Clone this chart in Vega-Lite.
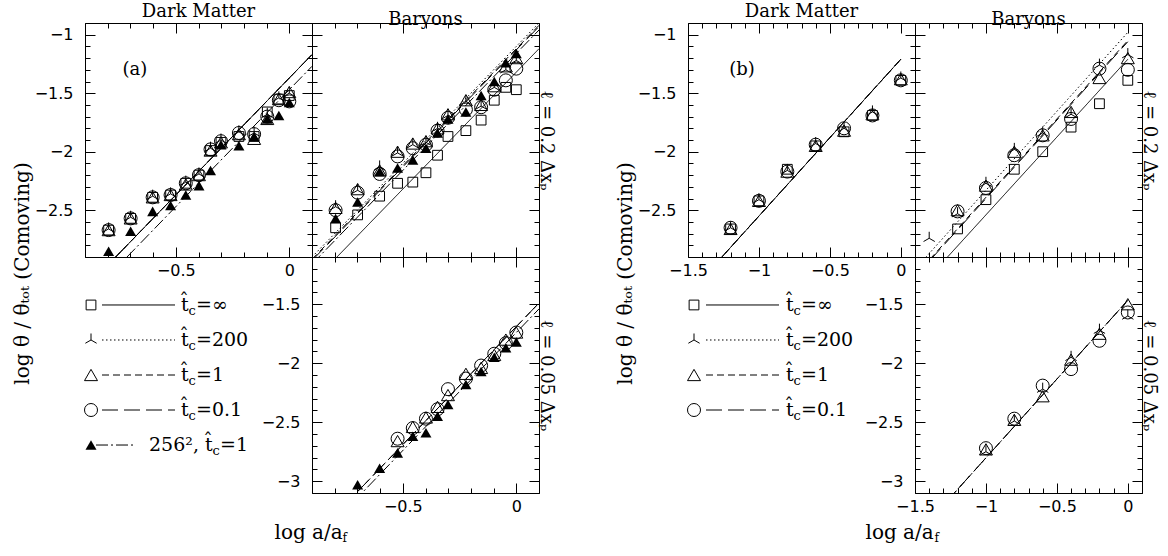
{
"$schema":"https://vega.github.io/schema/vega-lite/v6.json",
"padding":{"left":12,"top":3,"right":5,"bottom":5},
"background":"white",
"config":{
 "view":{"stroke":null},
 "axis":{"domainColor":"black","domainWidth":1,"tickColor":"black","tickWidth":1,"labelColor":"black","labelFont":"DejaVu Sans","labelFontSize":16,"titleColor":"black","titleFont":"DejaVu Serif","titleFontSize":18,"titleFontWeight":"normal","grid":false,"labelFlush":false,"labelOverlap":false,"labelBound":false},
 "title":{"font":"DejaVu Serif","fontSize":18,"fontWeight":"normal","color":"black","anchor":"middle","offset":-6},
 "text":{"font":"DejaVu Serif","color":"black"}
},
"datasets":{
"leg":[{"s":"inf","suf":"=∞"},{"s":"200","suf":"=200"},{"s":"1","suf":"=1"},{"s":"0.1","suf":"=0.1"},{"s":"256","suf":"=1"}],
"lines":[
{"p":"a_dm","s":"inf","x":-0.9,"y":-3.17},{"p":"a_dm","s":"inf","x":0.1,"y":-1.17},
{"p":"a_dm","s":"200","x":-0.9,"y":-3.17},{"p":"a_dm","s":"200","x":0.1,"y":-1.17},
{"p":"a_dm","s":"1","x":-0.9,"y":-3.17},{"p":"a_dm","s":"1","x":0.1,"y":-1.17},
{"p":"a_dm","s":"0.1","x":-0.9,"y":-3.17},{"p":"a_dm","s":"0.1","x":0.1,"y":-1.17},
{"p":"a_dm","s":"256","x":-0.9,"y":-3.27},{"p":"a_dm","s":"256","x":0.1,"y":-1.27},
{"p":"a_bt","s":"inf","x":-0.9,"y":-3.12},{"p":"a_bt","s":"inf","x":0.1,"y":-1.12},
{"p":"a_bt","s":"200","x":-0.9,"y":-2.9},{"p":"a_bt","s":"200","x":0.1,"y":-0.9},
{"p":"a_bt","s":"1","x":-0.9,"y":-2.92},{"p":"a_bt","s":"1","x":0.1,"y":-0.92},
{"p":"a_bt","s":"0.1","x":-0.9,"y":-2.93},{"p":"a_bt","s":"0.1","x":0.1,"y":-0.93},
{"p":"a_bt","s":"256","x":-0.9,"y":-2.96},{"p":"a_bt","s":"256","x":0.1,"y":-0.96},
{"p":"a_bb","s":"1","x":-0.9,"y":-3.49},{"p":"a_bb","s":"1","x":0.1,"y":-1.49},
{"p":"a_bb","s":"0.1","x":-0.9,"y":-3.49},{"p":"a_bb","s":"0.1","x":0.1,"y":-1.49},
{"p":"a_bb","s":"256","x":-0.9,"y":-3.54},{"p":"a_bb","s":"256","x":0.1,"y":-1.54},
{"p":"b_dm","s":"inf","x":-1.5,"y":-3.22},{"p":"b_dm","s":"inf","x":0,"y":-1.21},
{"p":"b_dm","s":"200","x":-1.5,"y":-3.22},{"p":"b_dm","s":"200","x":0,"y":-1.21},
{"p":"b_dm","s":"1","x":-1.5,"y":-3.22},{"p":"b_dm","s":"1","x":0,"y":-1.21},
{"p":"b_dm","s":"0.1","x":-1.5,"y":-3.22},{"p":"b_dm","s":"0.1","x":0,"y":-1.21},
{"p":"b_bt","s":"inf","x":-1.5,"y":-3.205},{"p":"b_bt","s":"inf","x":0,"y":-1.21},
{"p":"b_bt","s":"200","x":-1.5,"y":-3.005},{"p":"b_bt","s":"200","x":0,"y":-0.98},
{"p":"b_bt","s":"1","x":-1.5,"y":-3.06},{"p":"b_bt","s":"1","x":0,"y":-1.05},
{"p":"b_bt","s":"0.1","x":-1.5,"y":-3.07},{"p":"b_bt","s":"0.1","x":0,"y":-1.06},
{"p":"b_bb","s":"200","x":-1.5,"y":-3.47},{"p":"b_bb","s":"200","x":0,"y":-1.467},
{"p":"b_bb","s":"1","x":-1.5,"y":-3.47},{"p":"b_bb","s":"1","x":0,"y":-1.467},
{"p":"b_bb","s":"0.1","x":-1.5,"y":-3.47},{"p":"b_bb","s":"0.1","x":0,"y":-1.467}
],
"pts":[
{"p":"a_dm","s":"inf","x":-0.796,"y":-2.67},{"p":"a_dm","s":"inf","x":-0.699,"y":-2.57},{"p":"a_dm","s":"inf","x":-0.602,"y":-2.39},{"p":"a_dm","s":"inf","x":-0.523,"y":-2.37},{"p":"a_dm","s":"inf","x":-0.456,"y":-2.27},{"p":"a_dm","s":"inf","x":-0.398,"y":-2.2},{"p":"a_dm","s":"inf","x":-0.347,"y":-1.99},{"p":"a_dm","s":"inf","x":-0.301,"y":-1.92},{"p":"a_dm","s":"inf","x":-0.222,"y":-1.87},{"p":"a_dm","s":"inf","x":-0.155,"y":-1.87},{"p":"a_dm","s":"inf","x":-0.097,"y":-1.66},{"p":"a_dm","s":"inf","x":-0.046,"y":-1.55},{"p":"a_dm","s":"inf","x":0,"y":-1.52},
{"p":"a_dm","s":"200","x":-0.796,"y":-2.66},{"p":"a_dm","s":"200","x":-0.699,"y":-2.56},{"p":"a_dm","s":"200","x":-0.602,"y":-2.38},{"p":"a_dm","s":"200","x":-0.523,"y":-2.36},{"p":"a_dm","s":"200","x":-0.456,"y":-2.26},{"p":"a_dm","s":"200","x":-0.398,"y":-2.19},{"p":"a_dm","s":"200","x":-0.347,"y":-1.97},{"p":"a_dm","s":"200","x":-0.301,"y":-1.9},{"p":"a_dm","s":"200","x":-0.222,"y":-1.83},{"p":"a_dm","s":"200","x":-0.155,"y":-1.84},{"p":"a_dm","s":"200","x":-0.097,"y":-1.68},{"p":"a_dm","s":"200","x":-0.046,"y":-1.54},{"p":"a_dm","s":"200","x":0,"y":-1.5},
{"p":"a_dm","s":"1","x":-0.796,"y":-2.67},{"p":"a_dm","s":"1","x":-0.699,"y":-2.57},{"p":"a_dm","s":"1","x":-0.602,"y":-2.39},{"p":"a_dm","s":"1","x":-0.523,"y":-2.37},{"p":"a_dm","s":"1","x":-0.456,"y":-2.28},{"p":"a_dm","s":"1","x":-0.398,"y":-2.2},{"p":"a_dm","s":"1","x":-0.347,"y":-1.99},{"p":"a_dm","s":"1","x":-0.301,"y":-1.92},{"p":"a_dm","s":"1","x":-0.222,"y":-1.85},{"p":"a_dm","s":"1","x":-0.155,"y":-1.89},{"p":"a_dm","s":"1","x":-0.097,"y":-1.72},{"p":"a_dm","s":"1","x":-0.046,"y":-1.55},{"p":"a_dm","s":"1","x":0,"y":-1.49},
{"p":"a_dm","s":"0.1","x":-0.796,"y":-2.67},{"p":"a_dm","s":"0.1","x":-0.699,"y":-2.57},{"p":"a_dm","s":"0.1","x":-0.602,"y":-2.39},{"p":"a_dm","s":"0.1","x":-0.523,"y":-2.37},{"p":"a_dm","s":"0.1","x":-0.456,"y":-2.27},{"p":"a_dm","s":"0.1","x":-0.398,"y":-2.2},{"p":"a_dm","s":"0.1","x":-0.347,"y":-1.98},{"p":"a_dm","s":"0.1","x":-0.301,"y":-1.91},{"p":"a_dm","s":"0.1","x":-0.222,"y":-1.84},{"p":"a_dm","s":"0.1","x":-0.155,"y":-1.85},{"p":"a_dm","s":"0.1","x":-0.097,"y":-1.7},{"p":"a_dm","s":"0.1","x":-0.046,"y":-1.56},{"p":"a_dm","s":"0.1","x":0,"y":-1.57},
{"p":"a_dm","s":"256","x":-0.796,"y":-2.85},{"p":"a_dm","s":"256","x":-0.699,"y":-2.68},{"p":"a_dm","s":"256","x":-0.602,"y":-2.51},{"p":"a_dm","s":"256","x":-0.523,"y":-2.46},{"p":"a_dm","s":"256","x":-0.456,"y":-2.37},{"p":"a_dm","s":"256","x":-0.398,"y":-2.29},{"p":"a_dm","s":"256","x":-0.347,"y":-2.16},{"p":"a_dm","s":"256","x":-0.301,"y":-1.94},{"p":"a_dm","s":"256","x":-0.222,"y":-1.95},{"p":"a_dm","s":"256","x":-0.155,"y":-1.87},{"p":"a_dm","s":"256","x":-0.097,"y":-1.72},{"p":"a_dm","s":"256","x":-0.046,"y":-1.69},{"p":"a_dm","s":"256","x":0,"y":-1.58},
{"p":"a_bt","s":"inf","x":-0.796,"y":-2.65},{"p":"a_bt","s":"inf","x":-0.699,"y":-2.54},{"p":"a_bt","s":"inf","x":-0.602,"y":-2.38},{"p":"a_bt","s":"inf","x":-0.523,"y":-2.27},{"p":"a_bt","s":"inf","x":-0.456,"y":-2.26},{"p":"a_bt","s":"inf","x":-0.398,"y":-2.18},{"p":"a_bt","s":"inf","x":-0.347,"y":-2.03},{"p":"a_bt","s":"inf","x":-0.301,"y":-1.87},{"p":"a_bt","s":"inf","x":-0.222,"y":-1.82},{"p":"a_bt","s":"inf","x":-0.155,"y":-1.73},{"p":"a_bt","s":"inf","x":-0.097,"y":-1.56},{"p":"a_bt","s":"inf","x":-0.046,"y":-1.45},{"p":"a_bt","s":"inf","x":0,"y":-1.47},
{"p":"a_bt","s":"200","x":-0.796,"y":-2.47},{"p":"a_bt","s":"200","x":-0.699,"y":-2.33},{"p":"a_bt","s":"200","x":-0.602,"y":-2.13},{"p":"a_bt","s":"200","x":-0.523,"y":-2.01},{"p":"a_bt","s":"200","x":-0.456,"y":-1.94},{"p":"a_bt","s":"200","x":-0.398,"y":-1.92},{"p":"a_bt","s":"200","x":-0.347,"y":-1.8},{"p":"a_bt","s":"200","x":-0.301,"y":-1.69},{"p":"a_bt","s":"200","x":-0.222,"y":-1.57},{"p":"a_bt","s":"200","x":-0.155,"y":-1.61},{"p":"a_bt","s":"200","x":-0.097,"y":-1.45},{"p":"a_bt","s":"200","x":-0.046,"y":-1.3},{"p":"a_bt","s":"200","x":0,"y":-1.22},
{"p":"a_bt","s":"1","x":-0.796,"y":-2.48},{"p":"a_bt","s":"1","x":-0.699,"y":-2.32},{"p":"a_bt","s":"1","x":-0.602,"y":-2.16},{"p":"a_bt","s":"1","x":-0.523,"y":-2.0},{"p":"a_bt","s":"1","x":-0.456,"y":-1.93},{"p":"a_bt","s":"1","x":-0.398,"y":-1.91},{"p":"a_bt","s":"1","x":-0.347,"y":-1.8},{"p":"a_bt","s":"1","x":-0.301,"y":-1.68},{"p":"a_bt","s":"1","x":-0.222,"y":-1.56},{"p":"a_bt","s":"1","x":-0.155,"y":-1.6},{"p":"a_bt","s":"1","x":-0.097,"y":-1.44},{"p":"a_bt","s":"1","x":-0.046,"y":-1.27},{"p":"a_bt","s":"1","x":0,"y":-1.2},
{"p":"a_bt","s":"0.1","x":-0.796,"y":-2.5},{"p":"a_bt","s":"0.1","x":-0.699,"y":-2.35},{"p":"a_bt","s":"0.1","x":-0.602,"y":-2.19},{"p":"a_bt","s":"0.1","x":-0.523,"y":-2.04},{"p":"a_bt","s":"0.1","x":-0.456,"y":-1.97},{"p":"a_bt","s":"0.1","x":-0.398,"y":-1.94},{"p":"a_bt","s":"0.1","x":-0.347,"y":-1.82},{"p":"a_bt","s":"0.1","x":-0.301,"y":-1.71},{"p":"a_bt","s":"0.1","x":-0.222,"y":-1.64},{"p":"a_bt","s":"0.1","x":-0.155,"y":-1.62},{"p":"a_bt","s":"0.1","x":-0.097,"y":-1.47},{"p":"a_bt","s":"0.1","x":-0.046,"y":-1.39},{"p":"a_bt","s":"0.1","x":0,"y":-1.29},
{"p":"a_bt","s":"256","x":-0.796,"y":-2.57},{"p":"a_bt","s":"256","x":-0.699,"y":-2.43},{"p":"a_bt","s":"256","x":-0.602,"y":-2.17},{"p":"a_bt","s":"256","x":-0.523,"y":-2.14},{"p":"a_bt","s":"256","x":-0.456,"y":-2.07},{"p":"a_bt","s":"256","x":-0.398,"y":-1.97},{"p":"a_bt","s":"256","x":-0.347,"y":-1.84},{"p":"a_bt","s":"256","x":-0.301,"y":-1.72},{"p":"a_bt","s":"256","x":-0.222,"y":-1.66},{"p":"a_bt","s":"256","x":-0.155,"y":-1.52},{"p":"a_bt","s":"256","x":-0.097,"y":-1.4},{"p":"a_bt","s":"256","x":-0.046,"y":-1.24},{"p":"a_bt","s":"256","x":0,"y":-1.16},
{"p":"a_bb","s":"0.1","x":-0.523,"y":-2.64},{"p":"a_bb","s":"0.1","x":-0.456,"y":-2.55},{"p":"a_bb","s":"0.1","x":-0.398,"y":-2.47},{"p":"a_bb","s":"0.1","x":-0.347,"y":-2.39},{"p":"a_bb","s":"0.1","x":-0.301,"y":-2.22},{"p":"a_bb","s":"0.1","x":-0.222,"y":-2.13},{"p":"a_bb","s":"0.1","x":-0.155,"y":-2.02},{"p":"a_bb","s":"0.1","x":-0.097,"y":-1.92},{"p":"a_bb","s":"0.1","x":-0.046,"y":-1.83},{"p":"a_bb","s":"0.1","x":0,"y":-1.74},
{"p":"a_bb","s":"1","x":-0.523,"y":-2.66},{"p":"a_bb","s":"1","x":-0.456,"y":-2.54},{"p":"a_bb","s":"1","x":-0.398,"y":-2.46},{"p":"a_bb","s":"1","x":-0.347,"y":-2.37},{"p":"a_bb","s":"1","x":-0.301,"y":-2.27},{"p":"a_bb","s":"1","x":-0.222,"y":-2.09},{"p":"a_bb","s":"1","x":-0.155,"y":-2.04},{"p":"a_bb","s":"1","x":-0.097,"y":-1.93},{"p":"a_bb","s":"1","x":-0.046,"y":-1.8},{"p":"a_bb","s":"1","x":0,"y":-1.74},
{"p":"a_bb","s":"256","x":-0.699,"y":-3.03},{"p":"a_bb","s":"256","x":-0.602,"y":-2.89},{"p":"a_bb","s":"256","x":-0.523,"y":-2.76},{"p":"a_bb","s":"256","x":-0.456,"y":-2.62},{"p":"a_bb","s":"256","x":-0.398,"y":-2.59},{"p":"a_bb","s":"256","x":-0.347,"y":-2.45},{"p":"a_bb","s":"256","x":-0.301,"y":-2.35},{"p":"a_bb","s":"256","x":-0.222,"y":-2.18},{"p":"a_bb","s":"256","x":-0.155,"y":-2.07},{"p":"a_bb","s":"256","x":-0.097,"y":-1.95},{"p":"a_bb","s":"256","x":-0.046,"y":-1.87},{"p":"a_bb","s":"256","x":0,"y":-1.82},
{"p":"b_dm","s":"inf","x":-1.2,"y":-2.66},{"p":"b_dm","s":"inf","x":-1.0,"y":-2.42},{"p":"b_dm","s":"inf","x":-0.8,"y":-2.15},{"p":"b_dm","s":"inf","x":-0.6,"y":-1.95},{"p":"b_dm","s":"inf","x":-0.4,"y":-1.83},{"p":"b_dm","s":"inf","x":-0.2,"y":-1.69},{"p":"b_dm","s":"inf","x":0,"y":-1.39},
{"p":"b_dm","s":"200","x":-1.2,"y":-2.65},{"p":"b_dm","s":"200","x":-1.0,"y":-2.41},{"p":"b_dm","s":"200","x":-0.8,"y":-2.16},{"p":"b_dm","s":"200","x":-0.6,"y":-1.93},{"p":"b_dm","s":"200","x":-0.4,"y":-1.8},{"p":"b_dm","s":"200","x":-0.2,"y":-1.66},{"p":"b_dm","s":"200","x":0,"y":-1.37},
{"p":"b_dm","s":"1","x":-1.2,"y":-2.66},{"p":"b_dm","s":"1","x":-1.0,"y":-2.42},{"p":"b_dm","s":"1","x":-0.8,"y":-2.17},{"p":"b_dm","s":"1","x":-0.6,"y":-1.95},{"p":"b_dm","s":"1","x":-0.4,"y":-1.82},{"p":"b_dm","s":"1","x":-0.2,"y":-1.68},{"p":"b_dm","s":"1","x":0,"y":-1.38},
{"p":"b_dm","s":"0.1","x":-1.2,"y":-2.65},{"p":"b_dm","s":"0.1","x":-1.0,"y":-2.42},{"p":"b_dm","s":"0.1","x":-0.8,"y":-2.17},{"p":"b_dm","s":"0.1","x":-0.6,"y":-1.94},{"p":"b_dm","s":"0.1","x":-0.4,"y":-1.8},{"p":"b_dm","s":"0.1","x":-0.2,"y":-1.69},{"p":"b_dm","s":"0.1","x":0,"y":-1.39},
{"p":"b_bt","s":"inf","x":-1.2,"y":-2.66},{"p":"b_bt","s":"inf","x":-1.0,"y":-2.41},{"p":"b_bt","s":"inf","x":-0.8,"y":-2.15},{"p":"b_bt","s":"inf","x":-0.6,"y":-2.0},{"p":"b_bt","s":"inf","x":-0.4,"y":-1.79},{"p":"b_bt","s":"inf","x":-0.2,"y":-1.59},{"p":"b_bt","s":"inf","x":0,"y":-1.39},
{"p":"b_bt","s":"200","x":-1.4,"y":-2.74},{"p":"b_bt","s":"200","x":-1.2,"y":-2.53},{"p":"b_bt","s":"200","x":-1.0,"y":-2.27},{"p":"b_bt","s":"200","x":-0.8,"y":-1.98},{"p":"b_bt","s":"200","x":-0.6,"y":-1.84},{"p":"b_bt","s":"200","x":-0.4,"y":-1.68},{"p":"b_bt","s":"200","x":-0.2,"y":-1.26},{"p":"b_bt","s":"200","x":0,"y":-1.17},
{"p":"b_bt","s":"1","x":-1.2,"y":-2.5},{"p":"b_bt","s":"1","x":-1.0,"y":-2.29},{"p":"b_bt","s":"1","x":-0.8,"y":-2.0},{"p":"b_bt","s":"1","x":-0.6,"y":-1.86},{"p":"b_bt","s":"1","x":-0.4,"y":-1.66},{"p":"b_bt","s":"1","x":-0.2,"y":-1.37},{"p":"b_bt","s":"1","x":0,"y":-1.2},
{"p":"b_bt","s":"0.1","x":-1.2,"y":-2.51},{"p":"b_bt","s":"0.1","x":-1.0,"y":-2.31},{"p":"b_bt","s":"0.1","x":-0.8,"y":-2.03},{"p":"b_bt","s":"0.1","x":-0.6,"y":-1.86},{"p":"b_bt","s":"0.1","x":-0.4,"y":-1.72},{"p":"b_bt","s":"0.1","x":-0.2,"y":-1.29},{"p":"b_bt","s":"0.1","x":0,"y":-1.3},
{"p":"b_bb","s":"0.1","x":-1.0,"y":-2.72},{"p":"b_bb","s":"0.1","x":-0.8,"y":-2.47},{"p":"b_bb","s":"0.1","x":-0.6,"y":-2.19},{"p":"b_bb","s":"0.1","x":-0.4,"y":-2.05},{"p":"b_bb","s":"0.1","x":-0.2,"y":-1.81},{"p":"b_bb","s":"0.1","x":0,"y":-1.57},
{"p":"b_bb","s":"1","x":-1.0,"y":-2.73},{"p":"b_bb","s":"1","x":-0.8,"y":-2.48},{"p":"b_bb","s":"1","x":-0.6,"y":-2.28},{"p":"b_bb","s":"1","x":-0.4,"y":-1.97},{"p":"b_bb","s":"1","x":-0.2,"y":-1.75},{"p":"b_bb","s":"1","x":0,"y":-1.5},
{"p":"b_bb","s":"200","x":-1.0,"y":-2.75},{"p":"b_bb","s":"200","x":-0.8,"y":-2.49},{"p":"b_bb","s":"200","x":-0.6,"y":-2.22},{"p":"b_bb","s":"200","x":-0.4,"y":-1.95},{"p":"b_bb","s":"200","x":-0.2,"y":-1.72},{"p":"b_bb","s":"200","x":0,"y":-1.6}
]
},
"columns":5,
"spacing":0,
"bounds":"flush",
"align":"each",
"concat":[
{
 "width":227,"height":234,
 "title":{"text":"Dark Matter"},
 "layer":[
  {"data":{"name":"lines"},"transform":[{"filter":"datum.p=='a_dm'"}],
   "mark":{"type":"line","clip":true,"color":"black","strokeWidth":1},
   "encoding":{
    "x":{"field":"x","type":"quantitative","scale":{"domain":[-0.9,0.1],"nice":false,"zero":false},"axis":{"orient":"bottom","values":[-0.9,-0.8,-0.7,-0.6,-0.5,-0.4,-0.3,-0.2,-0.1,0,0.1],"tickSize":{"condition":{"test":"abs(datum.value*2-round(datum.value*2))<0.01","value":-10},"value":-5},"labelExpr":"abs(datum.value*2-round(datum.value*2))<0.01 ? format(datum.value,'.1~f') : ''","labelPadding":15,"title":null}},
    "y":{"field":"y","type":"quantitative","scale":{"domain":[-2.9,-0.9],"nice":false,"zero":false},"axis":{"orient":"left","values":[-2.9,-2.8,-2.7,-2.6,-2.5,-2.4,-2.3,-2.2,-2.1,-2,-1.9,-1.8,-1.7,-1.6,-1.5,-1.4,-1.3,-1.2,-1.1,-1,-0.9],"tickSize":{"condition":{"test":"abs(datum.value*2-round(datum.value*2))<0.01","value":-10},"value":-5},"labelExpr":"abs(datum.value*2-round(datum.value*2))<0.01 ? format(datum.value,'.1~f') : ''","labelPadding":22,"title":"log  θ / θₜₒₜ   (Comoving)","titleX":-57,"titleY":250,"titleAngle":-90,"titleAlign":"center","titleBaseline":"alphabetic","titleFontSize":20}},
    "strokeDash":{"field":"s","type":"nominal","scale":{"domain":["inf","200","1","0.1","256"],"range":[[1,0],[1.5,2.5],[7,4],[16,6],[12,3,2,3]]},"legend":null}
   }},
  {"data":{"name":"pts"},"transform":[{"filter":"datum.p=='a_dm' && datum.s!='256'"}],
   "mark":{"type":"point","filled":false,"color":"black","strokeWidth":1,"opacity":1,"size":169},
   "encoding":{
    "x":{"field":"x","type":"quantitative","scale":{"domain":[-0.9,0.1],"nice":false,"zero":false},"axis":{"orient":"top","values":[-0.9,-0.8,-0.7,-0.6,-0.5,-0.4,-0.3,-0.2,-0.1,0,0.1],"tickSize":{"condition":{"test":"abs(datum.value*2-round(datum.value*2))<0.01","value":-10},"value":-5},"labels":false,"title":null}},
    "y":{"field":"y","type":"quantitative","scale":{"domain":[-2.9,-0.9],"nice":false,"zero":false},"axis":{"orient":"right","values":[-2.9,-2.8,-2.7,-2.6,-2.5,-2.4,-2.3,-2.2,-2.1,-2,-1.9,-1.8,-1.7,-1.6,-1.5,-1.4,-1.3,-1.2,-1.1,-1,-0.9],"tickSize":{"condition":{"test":"abs(datum.value*2-round(datum.value*2))<0.01","value":-10},"value":-5},"labels":false,"title":null}},
    "shape":{"field":"s","type":"nominal","scale":{"domain":["inf","200","1","0.1","256"],"range":["M-0.75,-0.75H0.75V0.75H-0.75Z","M0,0V-1M0,0L-0.866,0.5M0,0L0.866,0.5","triangle-up","circle","triangle-up"]},"legend":null}
   }},
  {"data":{"name":"pts"},"transform":[{"filter":"datum.p=='a_dm' && datum.s=='256'"}],
   "mark":{"type":"point","shape":"triangle-up","filled":true,"color":"black","opacity":1,"size":121},
   "encoding":{"x":{"field":"x","type":"quantitative","scale":{"domain":[-0.9,0.1],"nice":false,"zero":false},"axis":null},"y":{"field":"y","type":"quantitative","scale":{"domain":[-2.9,-0.9],"nice":false,"zero":false},"axis":null}}},
  {"data":{"values":[{}]},
   "mark":{"type":"text","font":"DejaVu Serif","fontSize":18,"color":"black"},
   "encoding":{"x":{"datum":-0.68,"type":"quantitative","scale":{"domain":[-0.9,0.1],"nice":false,"zero":false},"axis":null},"y":{"datum":-1.3,"type":"quantitative","scale":{"domain":[-2.9,-0.9],"nice":false,"zero":false},"axis":null},"text":{"value":"(a)"}}}
 ],
 "resolve":{"axis":{"x":"independent","y":"independent"}}
},
{
 "width":227,"height":234,
 "title":{"text":"Baryons"},
 "layer":[
  {"data":{"name":"lines"},"transform":[{"filter":"datum.p=='a_bt'"}],
   "mark":{"type":"line","clip":true,"color":"black","strokeWidth":1},
   "encoding":{
    "x":{"field":"x","type":"quantitative","scale":{"domain":[-0.9,0.1],"nice":false,"zero":false},"axis":{"orient":"bottom","values":[-0.9,-0.8,-0.7,-0.6,-0.5,-0.4,-0.3,-0.2,-0.1,0,0.1],"tickSize":{"condition":{"test":"abs(datum.value*2-round(datum.value*2))<0.01","value":-10},"value":-5},"labels":false,"title":null}},
    "y":{"field":"y","type":"quantitative","scale":{"domain":[-2.9,-0.9],"nice":false,"zero":false},"axis":{"orient":"left","values":[-2.9,-2.8,-2.7,-2.6,-2.5,-2.4,-2.3,-2.2,-2.1,-2,-1.9,-1.8,-1.7,-1.6,-1.5,-1.4,-1.3,-1.2,-1.1,-1,-0.9],"tickSize":{"condition":{"test":"abs(datum.value*2-round(datum.value*2))<0.01","value":-10},"value":-5},"labels":false,"title":null}},
    "strokeDash":{"field":"s","type":"nominal","scale":{"domain":["inf","200","1","0.1","256"],"range":[[1,0],[1.5,2.5],[7,4],[16,6],[12,3,2,3]]},"legend":null}
   }},
  {"data":{"name":"pts"},"transform":[{"filter":"datum.p=='a_bt' && datum.s!='256'"}],
   "mark":{"type":"point","filled":false,"color":"black","strokeWidth":1,"opacity":1,"size":169},
   "encoding":{
    "x":{"field":"x","type":"quantitative","scale":{"domain":[-0.9,0.1],"nice":false,"zero":false},"axis":{"orient":"top","values":[-0.9,-0.8,-0.7,-0.6,-0.5,-0.4,-0.3,-0.2,-0.1,0,0.1],"tickSize":{"condition":{"test":"abs(datum.value*2-round(datum.value*2))<0.01","value":-10},"value":-5},"labels":false,"title":null}},
    "y":{"field":"y","type":"quantitative","scale":{"domain":[-2.9,-0.9],"nice":false,"zero":false},"axis":{"orient":"right","values":[-2.9,-2.8,-2.7,-2.6,-2.5,-2.4,-2.3,-2.2,-2.1,-2,-1.9,-1.8,-1.7,-1.6,-1.5,-1.4,-1.3,-1.2,-1.1,-1,-0.9],"tickSize":{"condition":{"test":"abs(datum.value*2-round(datum.value*2))<0.01","value":-10},"value":-5},"labels":false,"title":"ℓ = 0.2 Δxₚ","titleAngle":90,"titlePadding":-3}},
    "shape":{"field":"s","type":"nominal","scale":{"domain":["inf","200","1","0.1","256"],"range":["M-0.75,-0.75H0.75V0.75H-0.75Z","M0,0V-1M0,0L-0.866,0.5M0,0L0.866,0.5","triangle-up","circle","triangle-up"]},"legend":null}
   }},
  {"data":{"name":"pts"},"transform":[{"filter":"datum.p=='a_bt' && datum.s=='256'"}],
   "mark":{"type":"point","shape":"triangle-up","filled":true,"color":"black","opacity":1,"size":121},
   "encoding":{"x":{"field":"x","type":"quantitative","scale":{"domain":[-0.9,0.1],"nice":false,"zero":false},"axis":null},"y":{"field":"y","type":"quantitative","scale":{"domain":[-2.9,-0.9],"nice":false,"zero":false},"axis":null}}}
 ],
 "resolve":{"axis":{"x":"independent","y":"independent"}}
},
{"width":149,"height":234,"data":{"values":[{}]},"mark":{"type":"point","opacity":0},"encoding":{}},
{
 "width":227,"height":234,
 "title":{"text":"Dark Matter"},
 "layer":[
  {"data":{"name":"lines"},"transform":[{"filter":"datum.p=='b_dm'"}],
   "mark":{"type":"line","clip":true,"color":"black","strokeWidth":1},
   "encoding":{
    "x":{"field":"x","type":"quantitative","scale":{"domain":[-1.5,0.1],"nice":false,"zero":false},"axis":{"orient":"bottom","values":[-1.5,-1.4,-1.3,-1.2,-1.1,-1,-0.9,-0.8,-0.7,-0.6,-0.5,-0.4,-0.3,-0.2,-0.1,0,0.1],"tickSize":{"condition":{"test":"abs(datum.value*2-round(datum.value*2))<0.01","value":-10},"value":-5},"labelExpr":"abs(datum.value*2-round(datum.value*2))<0.01 ? format(datum.value,'.1~f') : ''","labelPadding":15,"title":null}},
    "y":{"field":"y","type":"quantitative","scale":{"domain":[-2.9,-0.9],"nice":false,"zero":false},"axis":{"orient":"left","values":[-2.9,-2.8,-2.7,-2.6,-2.5,-2.4,-2.3,-2.2,-2.1,-2,-1.9,-1.8,-1.7,-1.6,-1.5,-1.4,-1.3,-1.2,-1.1,-1,-0.9],"tickSize":{"condition":{"test":"abs(datum.value*2-round(datum.value*2))<0.01","value":-10},"value":-5},"labelExpr":"abs(datum.value*2-round(datum.value*2))<0.01 ? format(datum.value,'.1~f') : ''","labelPadding":22,"title":"log  θ / θₜₒₜ   (Comoving)","titleX":-57,"titleY":250,"titleAngle":-90,"titleAlign":"center","titleBaseline":"alphabetic","titleFontSize":20}},
    "strokeDash":{"field":"s","type":"nominal","scale":{"domain":["inf","200","1","0.1","256"],"range":[[1,0],[1.5,2.5],[7,4],[16,6],[12,3,2,3]]},"legend":null}
   }},
  {"data":{"name":"pts"},"transform":[{"filter":"datum.p=='b_dm'"}],
   "mark":{"type":"point","filled":false,"color":"black","strokeWidth":1,"opacity":1,"size":169},
   "encoding":{
    "x":{"field":"x","type":"quantitative","scale":{"domain":[-1.5,0.1],"nice":false,"zero":false},"axis":{"orient":"top","values":[-1.5,-1.4,-1.3,-1.2,-1.1,-1,-0.9,-0.8,-0.7,-0.6,-0.5,-0.4,-0.3,-0.2,-0.1,0,0.1],"tickSize":{"condition":{"test":"abs(datum.value*2-round(datum.value*2))<0.01","value":-10},"value":-5},"labels":false,"title":null}},
    "y":{"field":"y","type":"quantitative","scale":{"domain":[-2.9,-0.9],"nice":false,"zero":false},"axis":{"orient":"right","values":[-2.9,-2.8,-2.7,-2.6,-2.5,-2.4,-2.3,-2.2,-2.1,-2,-1.9,-1.8,-1.7,-1.6,-1.5,-1.4,-1.3,-1.2,-1.1,-1,-0.9],"tickSize":{"condition":{"test":"abs(datum.value*2-round(datum.value*2))<0.01","value":-10},"value":-5},"labels":false,"title":null}},
    "shape":{"field":"s","type":"nominal","scale":{"domain":["inf","200","1","0.1","256"],"range":["M-0.75,-0.75H0.75V0.75H-0.75Z","M0,0V-1M0,0L-0.866,0.5M0,0L0.866,0.5","triangle-up","circle","triangle-up"]},"legend":null}
   }},
  {"data":{"values":[{}]},
   "mark":{"type":"text","font":"DejaVu Serif","fontSize":18,"color":"black"},
   "encoding":{"x":{"datum":-1.12,"type":"quantitative","scale":{"domain":[-1.5,0.1],"nice":false,"zero":false},"axis":null},"y":{"datum":-1.3,"type":"quantitative","scale":{"domain":[-2.9,-0.9],"nice":false,"zero":false},"axis":null},"text":{"value":"(b)"}}}
 ],
 "resolve":{"axis":{"x":"independent","y":"independent"}}
},
{
 "width":227,"height":234,
 "title":{"text":"Baryons"},
 "layer":[
  {"data":{"name":"lines"},"transform":[{"filter":"datum.p=='b_bt'"}],
   "mark":{"type":"line","clip":true,"color":"black","strokeWidth":1},
   "encoding":{
    "x":{"field":"x","type":"quantitative","scale":{"domain":[-1.5,0.1],"nice":false,"zero":false},"axis":{"orient":"bottom","values":[-1.5,-1.4,-1.3,-1.2,-1.1,-1,-0.9,-0.8,-0.7,-0.6,-0.5,-0.4,-0.3,-0.2,-0.1,0,0.1],"tickSize":{"condition":{"test":"abs(datum.value*2-round(datum.value*2))<0.01","value":-10},"value":-5},"labels":false,"title":null}},
    "y":{"field":"y","type":"quantitative","scale":{"domain":[-2.9,-0.9],"nice":false,"zero":false},"axis":{"orient":"left","values":[-2.9,-2.8,-2.7,-2.6,-2.5,-2.4,-2.3,-2.2,-2.1,-2,-1.9,-1.8,-1.7,-1.6,-1.5,-1.4,-1.3,-1.2,-1.1,-1,-0.9],"tickSize":{"condition":{"test":"abs(datum.value*2-round(datum.value*2))<0.01","value":-10},"value":-5},"labels":false,"title":null}},
    "strokeDash":{"field":"s","type":"nominal","scale":{"domain":["inf","200","1","0.1","256"],"range":[[1,0],[1.5,2.5],[7,4],[16,6],[12,3,2,3]]},"legend":null}
   }},
  {"data":{"name":"pts"},"transform":[{"filter":"datum.p=='b_bt'"}],
   "mark":{"type":"point","filled":false,"color":"black","strokeWidth":1,"opacity":1,"size":169},
   "encoding":{
    "x":{"field":"x","type":"quantitative","scale":{"domain":[-1.5,0.1],"nice":false,"zero":false},"axis":{"orient":"top","values":[-1.5,-1.4,-1.3,-1.2,-1.1,-1,-0.9,-0.8,-0.7,-0.6,-0.5,-0.4,-0.3,-0.2,-0.1,0,0.1],"tickSize":{"condition":{"test":"abs(datum.value*2-round(datum.value*2))<0.01","value":-10},"value":-5},"labels":false,"title":null}},
    "y":{"field":"y","type":"quantitative","scale":{"domain":[-2.9,-0.9],"nice":false,"zero":false},"axis":{"orient":"right","values":[-2.9,-2.8,-2.7,-2.6,-2.5,-2.4,-2.3,-2.2,-2.1,-2,-1.9,-1.8,-1.7,-1.6,-1.5,-1.4,-1.3,-1.2,-1.1,-1,-0.9],"tickSize":{"condition":{"test":"abs(datum.value*2-round(datum.value*2))<0.01","value":-10},"value":-5},"labels":false,"title":"ℓ = 0.2 Δxₚ","titleAngle":90,"titlePadding":-3}},
    "shape":{"field":"s","type":"nominal","scale":{"domain":["inf","200","1","0.1","256"],"range":["M-0.75,-0.75H0.75V0.75H-0.75Z","M0,0V-1M0,0L-0.866,0.5M0,0L0.866,0.5","triangle-up","circle","triangle-up"]},"legend":null}
   }}
 ],
 "resolve":{"axis":{"x":"independent","y":"independent"}}
},
{
 "width":227,"height":236,
 "data":{"name":"leg"},
 "layer":[
  {"transform":[{"filter":"datum.s!='256'"}],
   "mark":{"type":"point","filled":false,"color":"black","strokeWidth":1,"opacity":1,"size":169},
   "encoding":{
    "x":{"datum":6,"type":"quantitative","scale":{"domain":[0,227],"nice":false,"zero":false},"axis":{"orient":"bottom","domain":false,"ticks":false,"labels":false,"title":"log  a/a","titleX":189,"titleY":45,"titleAlign":"left","titleBaseline":"alphabetic","titleFontSize":20}},
    "y":{"field":"s","type":"nominal","scale":{"type":"point","domain":["_a","inf","200","1","0.1","256","_b"],"padding":0.37},"axis":null},
    "shape":{"field":"s","type":"nominal","scale":{"domain":["inf","200","1","0.1","256"],"range":["M-0.75,-0.75H0.75V0.75H-0.75Z","M0,0V-1M0,0L-0.866,0.5M0,0L0.866,0.5","triangle-up","circle","triangle-up"]},"legend":null}
   }},
  {"transform":[{"filter":"datum.s=='256'"}],
   "mark":{"type":"point","shape":"triangle-up","filled":true,"color":"black","opacity":1,"size":121},
   "encoding":{"x":{"datum":6,"type":"quantitative","scale":{"domain":[0,227],"nice":false,"zero":false},"axis":null},"y":{"field":"s","type":"nominal","scale":{"type":"point","domain":["_a","inf","200","1","0.1","256","_b"],"padding":0.37},"axis":null}}},
  {"transform":[{"filter":"datum.s!='256'"}],
   "mark":{"type":"rule","color":"black","strokeWidth":1},
   "encoding":{"x":{"datum":17,"type":"quantitative","scale":{"domain":[0,227],"nice":false,"zero":false},"axis":null},"x2":{"datum":90},"y":{"field":"s","type":"nominal","scale":{"type":"point","domain":["_a","inf","200","1","0.1","256","_b"],"padding":0.37},"axis":null},
    "strokeDash":{"field":"s","type":"nominal","scale":{"domain":["inf","200","1","0.1","256"],"range":[[1,0],[1.5,2.5],[7,4],[16,6],[12,3,2,3]]},"legend":null}}},
  {"transform":[{"filter":"datum.s=='256'"}],
   "mark":{"type":"rule","color":"black","strokeWidth":1},
   "encoding":{"x":{"datum":11,"type":"quantitative","scale":{"domain":[0,227],"nice":false,"zero":false},"axis":null},"x2":{"datum":50},"y":{"field":"s","type":"nominal","scale":{"type":"point","domain":["_a","inf","200","1","0.1","256","_b"],"padding":0.37},"axis":null},
    "strokeDash":{"field":"s","type":"nominal","scale":{"domain":["inf","200","1","0.1","256"],"range":[[1,0],[1.5,2.5],[7,4],[16,6],[12,3,2,3]]},"legend":null}}},
  {"transform":[{"filter":"datum.s!='256'"}],
   "mark":{"type":"text","align":"left","baseline":"middle","font":"DejaVu Serif","fontSize":19,"color":"black"},
   "encoding":{"x":{"datum":96,"type":"quantitative","scale":{"domain":[0,227],"nice":false,"zero":false},"axis":null},"y":{"field":"s","type":"nominal","scale":{"type":"point","domain":["_a","inf","200","1","0.1","256","_b"],"padding":0.37},"axis":null},"text":{"value":"t̂"}}},
  {"transform":[{"filter":"datum.s!='256'"}],
   "mark":{"type":"text","align":"left","baseline":"middle","dy":6,"font":"DejaVu Serif","fontSize":13,"color":"black"},
   "encoding":{"x":{"datum":103.5,"type":"quantitative","scale":{"domain":[0,227],"nice":false,"zero":false},"axis":null},"y":{"field":"s","type":"nominal","scale":{"type":"point","domain":["_a","inf","200","1","0.1","256","_b"],"padding":0.37},"axis":null},"text":{"value":"c"}}},
  {"transform":[{"filter":"datum.s!='256'"}],
   "mark":{"type":"text","align":"left","baseline":"middle","font":"DejaVu Serif","fontSize":19,"color":"black"},
   "encoding":{"x":{"datum":111,"type":"quantitative","scale":{"domain":[0,227],"nice":false,"zero":false},"axis":null},"y":{"field":"s","type":"nominal","scale":{"type":"point","domain":["_a","inf","200","1","0.1","256","_b"],"padding":0.37},"axis":null},"text":{"field":"suf"}}},
  {"transform":[{"filter":"datum.s=='256'"}],
   "mark":{"type":"text","align":"left","baseline":"middle","font":"DejaVu Serif","fontSize":19,"color":"black"},
   "encoding":{"x":{"datum":64,"type":"quantitative","scale":{"domain":[0,227],"nice":false,"zero":false},"axis":null},"y":{"field":"s","type":"nominal","scale":{"type":"point","domain":["_a","inf","200","1","0.1","256","_b"],"padding":0.37},"axis":null},"text":{"value":"256²,"}}},
  {"transform":[{"filter":"datum.s=='256'"}],
   "mark":{"type":"text","align":"left","baseline":"middle","font":"DejaVu Serif","fontSize":19,"color":"black"},
   "encoding":{"x":{"datum":120,"type":"quantitative","scale":{"domain":[0,227],"nice":false,"zero":false},"axis":null},"y":{"field":"s","type":"nominal","scale":{"type":"point","domain":["_a","inf","200","1","0.1","256","_b"],"padding":0.37},"axis":null},"text":{"value":"t̂"}}},
  {"transform":[{"filter":"datum.s=='256'"}],
   "mark":{"type":"text","align":"left","baseline":"middle","dy":6,"font":"DejaVu Serif","fontSize":13,"color":"black"},
   "encoding":{"x":{"datum":127.5,"type":"quantitative","scale":{"domain":[0,227],"nice":false,"zero":false},"axis":null},"y":{"field":"s","type":"nominal","scale":{"type":"point","domain":["_a","inf","200","1","0.1","256","_b"],"padding":0.37},"axis":null},"text":{"value":"c"}}},
  {"transform":[{"filter":"datum.s=='256'"}],
   "mark":{"type":"text","align":"left","baseline":"middle","font":"DejaVu Serif","fontSize":19,"color":"black"},
   "encoding":{"x":{"datum":135,"type":"quantitative","scale":{"domain":[0,227],"nice":false,"zero":false},"axis":null},"y":{"field":"s","type":"nominal","scale":{"type":"point","domain":["_a","inf","200","1","0.1","256","_b"],"padding":0.37},"axis":null},"text":{"field":"suf"}}}
 ],
 "resolve":{"axis":{"x":"independent"}}
},
{
 "width":227,"height":236,
 "layer":[
  {"data":{"name":"lines"},"transform":[{"filter":"datum.p=='a_bb'"}],
   "mark":{"type":"line","clip":true,"color":"black","strokeWidth":1},
   "encoding":{
    "x":{"field":"x","type":"quantitative","scale":{"domain":[-0.9,0.1],"nice":false,"zero":false},"axis":{"orient":"bottom","values":[-0.9,-0.8,-0.7,-0.6,-0.5,-0.4,-0.3,-0.2,-0.1,0,0.1],"tickSize":{"condition":{"test":"abs(datum.value*2-round(datum.value*2))<0.01","value":-10},"value":-5},"labelExpr":"abs(datum.value*2-round(datum.value*2))<0.01 ? format(datum.value,'.1~f') : ''","labelPadding":15,"title":"f","titleX":30,"titleY":48,"titleAlign":"left","titleBaseline":"alphabetic","titleFontSize":12}},
    "y":{"field":"y","type":"quantitative","scale":{"domain":[-3.1,-1.1],"nice":false,"zero":false},"axis":{"orient":"left","values":[-3.1,-3,-2.9,-2.8,-2.7,-2.6,-2.5,-2.4,-2.3,-2.2,-2.1,-2,-1.9,-1.8,-1.7,-1.6,-1.5,-1.4,-1.3,-1.2,-1.1],"tickSize":{"condition":{"test":"abs(datum.value*2-round(datum.value*2))<0.01","value":-10},"value":-5},"labelExpr":"abs(datum.value*2-round(datum.value*2))<0.01 ? format(datum.value,'.1~f') : ''","labelPadding":22,"title":null}},
    "strokeDash":{"field":"s","type":"nominal","scale":{"domain":["inf","200","1","0.1","256"],"range":[[1,0],[1.5,2.5],[7,4],[16,6],[12,3,2,3]]},"legend":null}
   }},
  {"data":{"name":"pts"},"transform":[{"filter":"datum.p=='a_bb' && datum.s!='256'"}],
   "mark":{"type":"point","filled":false,"color":"black","strokeWidth":1,"opacity":1,"size":169},
   "encoding":{
    "x":{"field":"x","type":"quantitative","scale":{"domain":[-0.9,0.1],"nice":false,"zero":false},"axis":{"orient":"top","values":[-0.9,-0.8,-0.7,-0.6,-0.5,-0.4,-0.3,-0.2,-0.1,0,0.1],"tickSize":{"condition":{"test":"abs(datum.value*2-round(datum.value*2))<0.01","value":-10},"value":-5},"labels":false,"title":null}},
    "y":{"field":"y","type":"quantitative","scale":{"domain":[-3.1,-1.1],"nice":false,"zero":false},"axis":{"orient":"right","values":[-3.1,-3,-2.9,-2.8,-2.7,-2.6,-2.5,-2.4,-2.3,-2.2,-2.1,-2,-1.9,-1.8,-1.7,-1.6,-1.5,-1.4,-1.3,-1.2,-1.1],"tickSize":{"condition":{"test":"abs(datum.value*2-round(datum.value*2))<0.01","value":-10},"value":-5},"labels":false,"title":"ℓ = 0.05 Δxₚ","titleAngle":90,"titlePadding":-3}},
    "shape":{"field":"s","type":"nominal","scale":{"domain":["inf","200","1","0.1","256"],"range":["M-0.75,-0.75H0.75V0.75H-0.75Z","M0,0V-1M0,0L-0.866,0.5M0,0L0.866,0.5","triangle-up","circle","triangle-up"]},"legend":null}
   }},
  {"data":{"name":"pts"},"transform":[{"filter":"datum.p=='a_bb' && datum.s=='256'"}],
   "mark":{"type":"point","shape":"triangle-up","filled":true,"color":"black","opacity":1,"size":121},
   "encoding":{"x":{"field":"x","type":"quantitative","scale":{"domain":[-0.9,0.1],"nice":false,"zero":false},"axis":null},"y":{"field":"y","type":"quantitative","scale":{"domain":[-3.1,-1.1],"nice":false,"zero":false},"axis":null}}}
 ],
 "resolve":{"axis":{"x":"independent","y":"independent"}}
},
{"width":149,"height":236,"data":{"values":[{}]},"mark":{"type":"point","opacity":0},"encoding":{}},
{
 "width":227,"height":236,
 "data":{"name":"leg"},
 "transform":[{"filter":"datum.s!='256'"}],
 "layer":[
  {"mark":{"type":"point","filled":false,"color":"black","strokeWidth":1,"opacity":1,"size":169},
   "encoding":{
    "x":{"datum":6,"type":"quantitative","scale":{"domain":[0,227],"nice":false,"zero":false},"axis":{"orient":"bottom","domain":false,"ticks":false,"labels":false,"title":"log  a/a","titleX":177,"titleY":45,"titleAlign":"left","titleBaseline":"alphabetic","titleFontSize":20}},
    "y":{"field":"s","type":"nominal","scale":{"type":"point","domain":["_a","inf","200","1","0.1","256","_b"],"padding":0.37},"axis":null},
    "shape":{"field":"s","type":"nominal","scale":{"domain":["inf","200","1","0.1","256"],"range":["M-0.75,-0.75H0.75V0.75H-0.75Z","M0,0V-1M0,0L-0.866,0.5M0,0L0.866,0.5","triangle-up","circle","triangle-up"]},"legend":null}
   }},
  {"mark":{"type":"rule","color":"black","strokeWidth":1},
   "encoding":{"x":{"datum":18,"type":"quantitative","scale":{"domain":[0,227],"nice":false,"zero":false},"axis":null},"x2":{"datum":91},"y":{"field":"s","type":"nominal","scale":{"type":"point","domain":["_a","inf","200","1","0.1","256","_b"],"padding":0.37},"axis":null},
    "strokeDash":{"field":"s","type":"nominal","scale":{"domain":["inf","200","1","0.1","256"],"range":[[1,0],[1.5,2.5],[7,4],[16,6],[12,3,2,3]]},"legend":null}}},
  {"mark":{"type":"text","align":"left","baseline":"middle","font":"DejaVu Serif","fontSize":19,"color":"black"},
   "encoding":{"x":{"datum":98,"type":"quantitative","scale":{"domain":[0,227],"nice":false,"zero":false},"axis":null},"y":{"field":"s","type":"nominal","scale":{"type":"point","domain":["_a","inf","200","1","0.1","256","_b"],"padding":0.37},"axis":null},"text":{"value":"t̂"}}},
  {"mark":{"type":"text","align":"left","baseline":"middle","dy":6,"font":"DejaVu Serif","fontSize":13,"color":"black"},
   "encoding":{"x":{"datum":105.5,"type":"quantitative","scale":{"domain":[0,227],"nice":false,"zero":false},"axis":null},"y":{"field":"s","type":"nominal","scale":{"type":"point","domain":["_a","inf","200","1","0.1","256","_b"],"padding":0.37},"axis":null},"text":{"value":"c"}}},
  {"mark":{"type":"text","align":"left","baseline":"middle","font":"DejaVu Serif","fontSize":19,"color":"black"},
   "encoding":{"x":{"datum":113,"type":"quantitative","scale":{"domain":[0,227],"nice":false,"zero":false},"axis":null},"y":{"field":"s","type":"nominal","scale":{"type":"point","domain":["_a","inf","200","1","0.1","256","_b"],"padding":0.37},"axis":null},"text":{"field":"suf"}}}
 ],
 "resolve":{"axis":{"x":"independent"}}
},
{
 "width":227,"height":236,
 "layer":[
  {"data":{"name":"lines"},"transform":[{"filter":"datum.p=='b_bb'"}],
   "mark":{"type":"line","clip":true,"color":"black","strokeWidth":1},
   "encoding":{
    "x":{"field":"x","type":"quantitative","scale":{"domain":[-1.5,0.1],"nice":false,"zero":false},"axis":{"orient":"bottom","values":[-1.5,-1.4,-1.3,-1.2,-1.1,-1,-0.9,-0.8,-0.7,-0.6,-0.5,-0.4,-0.3,-0.2,-0.1,0,0.1],"tickSize":{"condition":{"test":"abs(datum.value*2-round(datum.value*2))<0.01","value":-10},"value":-5},"labelExpr":"abs(datum.value*2-round(datum.value*2))<0.01 ? format(datum.value,'.1~f') : ''","labelPadding":15,"title":"f","titleX":19,"titleY":48,"titleAlign":"left","titleBaseline":"alphabetic","titleFontSize":12}},
    "y":{"field":"y","type":"quantitative","scale":{"domain":[-3.1,-1.1],"nice":false,"zero":false},"axis":{"orient":"left","values":[-3.1,-3,-2.9,-2.8,-2.7,-2.6,-2.5,-2.4,-2.3,-2.2,-2.1,-2,-1.9,-1.8,-1.7,-1.6,-1.5,-1.4,-1.3,-1.2,-1.1],"tickSize":{"condition":{"test":"abs(datum.value*2-round(datum.value*2))<0.01","value":-10},"value":-5},"labelExpr":"abs(datum.value*2-round(datum.value*2))<0.01 ? format(datum.value,'.1~f') : ''","labelPadding":22,"title":null}},
    "strokeDash":{"field":"s","type":"nominal","scale":{"domain":["inf","200","1","0.1","256"],"range":[[1,0],[1.5,2.5],[7,4],[16,6],[12,3,2,3]]},"legend":null}
   }},
  {"data":{"name":"pts"},"transform":[{"filter":"datum.p=='b_bb'"}],
   "mark":{"type":"point","filled":false,"color":"black","strokeWidth":1,"opacity":1,"size":169},
   "encoding":{
    "x":{"field":"x","type":"quantitative","scale":{"domain":[-1.5,0.1],"nice":false,"zero":false},"axis":{"orient":"top","values":[-1.5,-1.4,-1.3,-1.2,-1.1,-1,-0.9,-0.8,-0.7,-0.6,-0.5,-0.4,-0.3,-0.2,-0.1,0,0.1],"tickSize":{"condition":{"test":"abs(datum.value*2-round(datum.value*2))<0.01","value":-10},"value":-5},"labels":false,"title":null}},
    "y":{"field":"y","type":"quantitative","scale":{"domain":[-3.1,-1.1],"nice":false,"zero":false},"axis":{"orient":"right","values":[-3.1,-3,-2.9,-2.8,-2.7,-2.6,-2.5,-2.4,-2.3,-2.2,-2.1,-2,-1.9,-1.8,-1.7,-1.6,-1.5,-1.4,-1.3,-1.2,-1.1],"tickSize":{"condition":{"test":"abs(datum.value*2-round(datum.value*2))<0.01","value":-10},"value":-5},"labels":false,"title":"ℓ = 0.05 Δxₚ","titleAngle":90,"titlePadding":-3}},
    "shape":{"field":"s","type":"nominal","scale":{"domain":["inf","200","1","0.1","256"],"range":["M-0.75,-0.75H0.75V0.75H-0.75Z","M0,0V-1M0,0L-0.866,0.5M0,0L0.866,0.5","triangle-up","circle","triangle-up"]},"legend":null}
   }}
 ],
 "resolve":{"axis":{"x":"independent","y":"independent"}}
}
]
}
